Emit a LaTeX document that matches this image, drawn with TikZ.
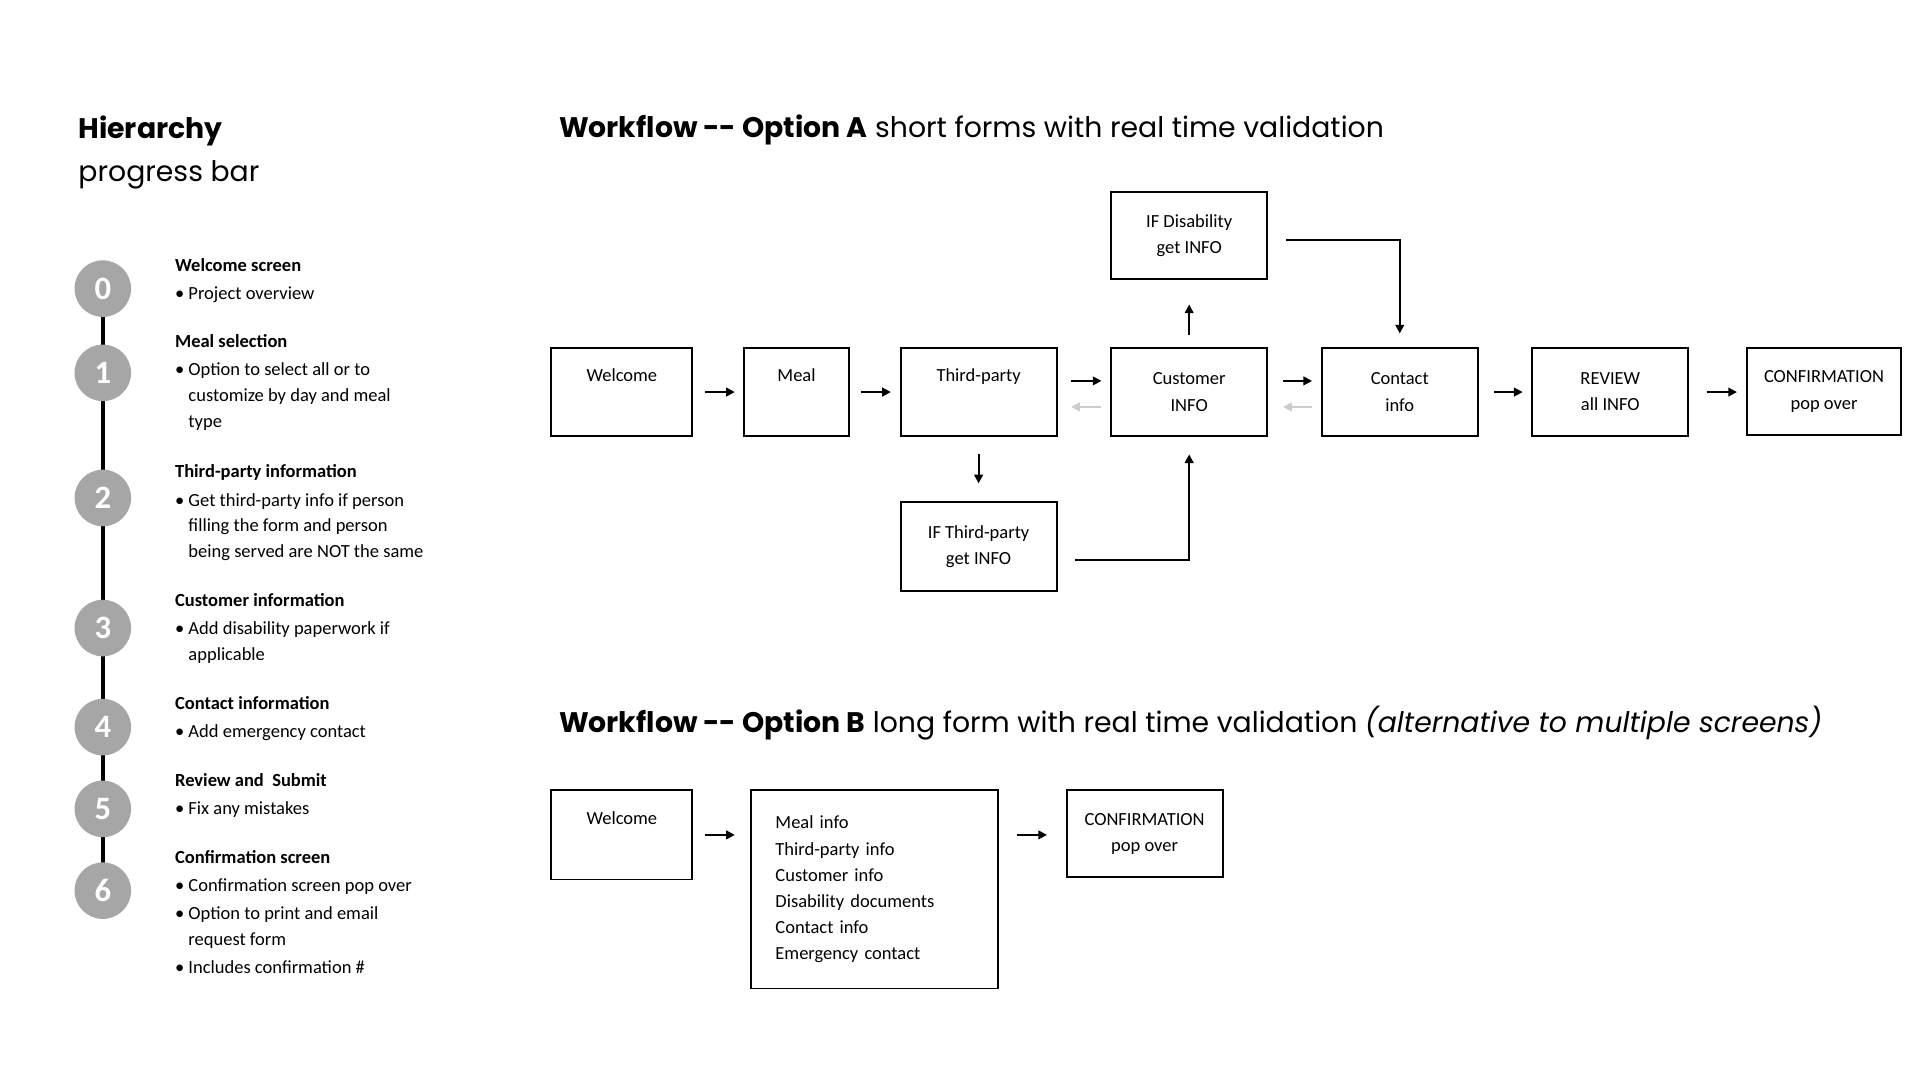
\documentclass[tikz,border=0pt]{standalone}
\usepackage{fontspec}
\setmainfont{Carlito}
\newfontfamily\titlefont{Poppins}
\usetikzlibrary{positioning, arrows.meta}

\tikzset{
  box/.style={draw, line width=0.9pt, align=center, font=\fontsize{8.5}{12}\selectfont},
  arr/.style={-{Triangle[length=4pt,width=4pt]}, line width=0.9pt},
  backarr/.style={-{Triangle[length=4pt,width=4pt]}, line width=0.9pt, black!20},
  stepcircle/.style={circle, fill=black!35, minimum size=26pt, inner sep=0pt, text=white, font=\fontsize{15}{15}\selectfont\bfseries},
  item/.style={anchor=north west, align=left, inner sep=0pt, font=\fontsize{8.5}{11.9}\selectfont},
  heading/.style={anchor=west, inner sep=0pt, font=\titlefont\fontsize{13}{15}\selectfont}
}
\newcommand{\bul}{\textbullet~}
\newcommand{\ind}{\hphantom{\textbullet~}}

\begin{document}
\begin{tikzpicture}[x=0.02cm, y=-0.02cm]
\useasboundingbox (0,0) rectangle (1550,872);

% progress bar
\node[heading] (hier) at (63,106) {\textbf{Hierarchy}};
\node[heading] (prog) at (63,141) {progress bar};
\draw[line width=2pt] (83,233) -- (83,719);
\foreach \n/\y in {0/233, 1/301, 2/402, 3/507, 4/587, 5/653, 6/719}
  \node[stepcircle] (s\n) at (83,\y) {\n};

\node[item] (i0) at (141,208) {\textbf{Welcome screen}\\[1pt] \bul Project overview};
\node[item] (i1) at (141,270) {\textbf{Meal selection}\\[1pt] \bul Option to select all or to\\ \ind customize by day and meal\\ \ind type};
\node[item] (i2) at (141,375) {\textbf{Third-party information}\\[1pt] \bul Get third-party info if person\\ \ind filling the form and person\\ \ind being served are NOT the same};
\node[item] (i3) at (141,479) {\textbf{Customer information}\\[1pt] \bul Add disability paperwork if\\ \ind applicable};
\node[item] (i4) at (141,562) {\textbf{Contact information}\\[1pt] \bul Add emergency contact};
\node[item] (i5) at (141,624) {\textbf{Review and\ \ Submit}\\[1pt] \bul Fix any mistakes};
\node[item] (i6) at (141,686) {\textbf{Confirmation screen}\\[1pt] \bul Confirmation screen pop over\\[1pt] \bul Option to print and email\\ \ind request form\\[1pt] \bul Includes confirmation \#};

% option A
\node[heading] (tA) at (451,105) {\textbf{Workflow -- Option A} short forms with real time validation};
\node[box, minimum width=114*0.02cm, minimum height=71*0.02cm] (wel) at (502,316.5) {Welcome\\ \strut};
\node[box, minimum width=84*0.02cm, minimum height=71*0.02cm] (meal) at (643,316.5) {Meal\\ \strut};
\node[box, minimum width=126*0.02cm, minimum height=71*0.02cm] (tp) at (790,316.5) {Third-party\\ \strut};
\node[box, minimum width=126*0.02cm, minimum height=71*0.02cm] (cust) at (960,316.5) {Customer\\ INFO};
\node[box, minimum width=126*0.02cm, minimum height=71*0.02cm] (cont) at (1130,316.5) {Contact\\ info};
\node[box, minimum width=126*0.02cm, minimum height=71*0.02cm] (rev) at (1300,316.5) {REVIEW\\ all INFO};
\node[box, minimum width=125*0.02cm, minimum height=70*0.02cm] (conf) at (1472.5,316) {CONFIRMATION\\ pop over};
\node[box, minimum width=126*0.02cm, minimum height=70*0.02cm] (dis) at (960,190) {IF Disability\\ get INFO};
\node[box, minimum width=126*0.02cm, minimum height=72*0.02cm] (tpi) at (790,441) {IF Third-party\\ get INFO};

\draw[arr, shorten <=9*0.02cm, shorten >=7*0.02cm] (wel.east) -- (meal.west);
\draw[arr, shorten <=9*0.02cm, shorten >=7*0.02cm] (meal.east) -- (tp.west);
\draw[arr, shorten <=11*0.02cm, shorten >=7*0.02cm] ([yshift=9*0.02cm]tp.east) -- ([yshift=9*0.02cm]cust.west);
\draw[backarr, shorten <=7*0.02cm, shorten >=11*0.02cm] ([yshift=-12*0.02cm]cust.west) -- ([yshift=-12*0.02cm]tp.east);
\draw[arr, shorten <=12*0.02cm, shorten >=7*0.02cm] ([yshift=9*0.02cm]cust.east) -- ([yshift=9*0.02cm]cont.west);
\draw[backarr, shorten <=7*0.02cm, shorten >=12*0.02cm] ([yshift=-12*0.02cm]cont.west) -- ([yshift=-12*0.02cm]cust.east);
\draw[arr, shorten <=12*0.02cm, shorten >=7*0.02cm] (cont.east) -- (rev.west);
\draw[arr, shorten <=14*0.02cm, shorten >=7*0.02cm] (rev.east) -- (rev.east -| conf.west);
\draw[arr, shorten <=10*0.02cm, shorten >=20*0.02cm] (cust.north) -- (dis.south);
\draw[arr, shorten <=14*0.02cm, shorten >=14*0.02cm] (tp.south) -- (tpi.north);
\draw[arr, shorten >=11*0.02cm] ([xshift=14*0.02cm,yshift=-4*0.02cm]dis.east) -| (cont.north);
\draw[arr, shorten >=14*0.02cm] ([xshift=14*0.02cm,yshift=-11*0.02cm]tpi.east) -| (cust.south);

% option B
\node[heading] (tB) at (451,584) {\textbf{Workflow -- Option B} long form with real time validation \textit{(alternative to multiple screens)}};
\node[box, minimum width=114*0.02cm, minimum height=72*0.02cm] (welB) at (502,674) {Welcome\\ \strut};
\node[box, minimum width=200*0.02cm, minimum height=160*0.02cm, align=left, text width=160*0.02cm] (form) at (706,718) {Meal info\\ Third-party info\\ Customer info\\ Disability documents\\ Contact info\\ Emergency contact};
\node[box, minimum width=126*0.02cm, minimum height=70*0.02cm] (confB) at (924,673) {CONFIRMATION\\ pop over};
\draw[arr, shorten <=9*0.02cm, shorten >=12*0.02cm] (welB.east) -- (welB.east -| form.west);
\draw[arr, shorten <=14*0.02cm, shorten >=15*0.02cm] (welB.east -| form.east) -- (welB.east -| confB.west);
\end{tikzpicture}
\end{document}
